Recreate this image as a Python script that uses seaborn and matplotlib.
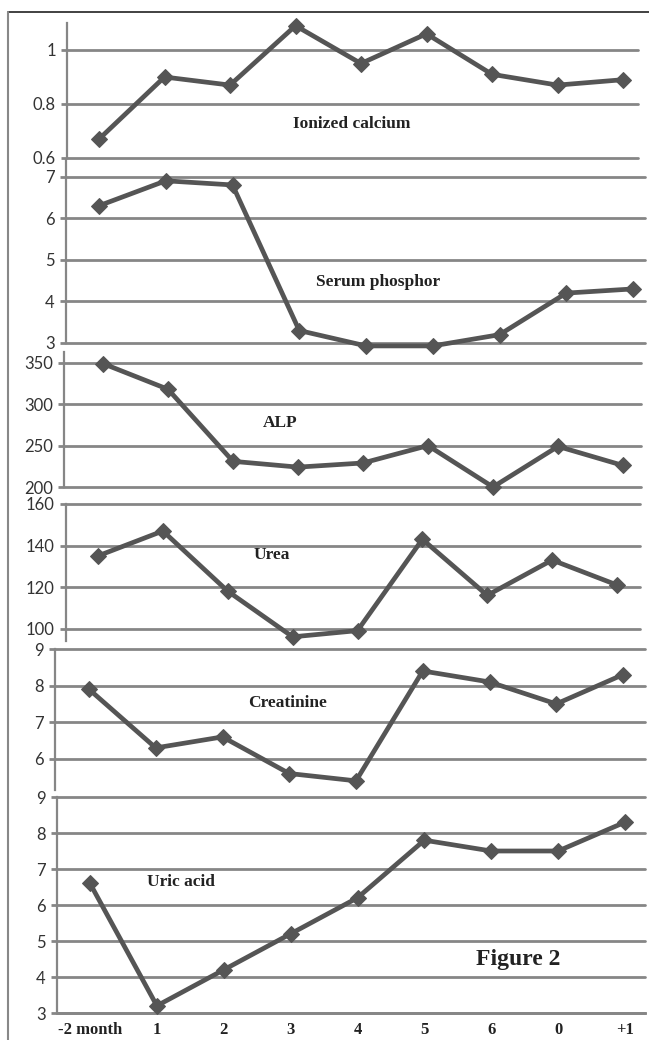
import matplotlib
matplotlib.use('Agg')
import matplotlib.pyplot as plt
import seaborn as sns
import pandas as pd

# months shown on the x axis (as printed in the figure)
months = ['-2 month', '1', '2', '3', '4', '5', '6', '0', '+1']

# values
ionized_calcium = [0.67, 0.90, 0.87, 1.09, 0.95, 1.06, 0.91, 0.87, 0.89]
serum_phosphor = [6.3, 6.9, 6.8, 3.3, 2.93, 2.93, 3.2, 4.2, 4.3]
alp = [349, 318, 231, 224, 229, 250, 200, 249, 226]
urea = [135, 147, 118, 96, 99, 143, 116, 133, 121]
creatinine = [7.9, 6.3, 6.6, 5.6, 5.4, 8.4, 8.1, 7.5, 8.3]
uric_acid = [6.6, 3.2, 4.2, 5.2, 6.2, 7.8, 7.5, 7.5, 8.3]

panel_names = ['Ionized calcium', 'Serum phosphor', 'ALP', 'Urea', 'Creatinine', 'Uric acid']
panel_values = [ionized_calcium, serum_phosphor, alp, urea, creatinine, uric_acid]
panel_ticks = [[0.6, 0.8, 1.0], [3, 4, 5, 6, 7], [200, 250, 300, 350],
               [100, 120, 140, 160], [6, 7, 8, 9], [3, 4, 5, 6, 7, 8, 9]]
panel_ticklabels = [['0.6', '0.8', '1'], ['3', '4', '5', '6', '7'], ['200', '250', '300', '350'],
                    ['100', '120', '140', '160'], ['6', '7', '8', '9'], ['3', '4', '5', '6', '7', '8', '9']]
panel_ylims = [(0.6, 1.1), (3, 7.4), (200, 363), (94, 160), (5.15, 9), (3, 9)]

# layout in pixels: left, right, top, bottom, first point x, last point x
layout = [
    (67, 638, 23, 158, 99, 623),
    (66, 645, 160, 343, 99, 633),
    (64, 641, 352, 487, 103, 623),
    (66, 640, 504, 641, 98, 617),
    (55, 645, 649, 790, 89, 623),
    (57, 645, 797, 1013, 90, 625),
]
# label centre positions in pixels
label_pos = [(352, 124), (378, 282), (280, 423), (272, 555), (288, 703), (181, 882)]

W, H = 649, 1040
LINE = '#555555'
GRID = '#868686'

sns.set_style('white')
plt.rcParams['font.family'] = ['Lato', 'DejaVu Sans']

fig = plt.figure(figsize=(W / 100, H / 100), dpi=100)

for i, (name, vals) in enumerate(zip(panel_names, panel_values)):
    L, R, T, B, f, l = layout[i]
    ax = fig.add_axes([L / W, 1 - B / H, (R - L) / W, (B - T) / H])
    ax.set_facecolor('none')
    df = pd.DataFrame({'x': range(len(months)), 'y': vals})
    sns.lineplot(data=df, x='x', y='y', ax=ax, color=LINE, linewidth=3.4,
                 marker='D', markersize=8.5, markeredgecolor=LINE, zorder=5)
    for ln in ax.lines:
        ln.set_clip_on(False)
    s = (l - f) / 8
    ax.set_xlim((L - f) / s, 8 + (R - l) / s)
    ax.set_ylim(*panel_ylims[i])
    ax.set_yticks(panel_ticks[i])
    ax.set_yticklabels(panel_ticklabels[i])
    ax.yaxis.grid(True, color=GRID, linewidth=2.0)
    for gl in ax.get_ygridlines():
        gl.set_clip_on(False)
    ax.set_axisbelow(True)
    for side in ['top', 'right', 'bottom']:
        ax.spines[side].set_visible(False)
    ax.spines['left'].set_color(GRID)
    ax.spines['left'].set_linewidth(1.6)
    ax.tick_params(axis='y', left=True, length=4, width=2.0, color=GRID,
                   labelsize=12, labelcolor='#333333', pad=4)
    ax.set_xlabel('')
    ax.set_ylabel('')
    if i == len(panel_names) - 1:
        ax.spines['bottom'].set_visible(True)
        ax.spines['bottom'].set_color(GRID)
        ax.spines['bottom'].set_linewidth(2.0)
        ax.set_xticks(range(len(months)))
        ax.set_xticklabels(months, family='Liberation Serif', fontweight='bold',
                           fontsize=12, color='#222222')
        ax.tick_params(axis='x', bottom=False, pad=3)
    else:
        ax.set_xticks([])
    lx, ly = label_pos[i]
    fig.text(lx / W, 1 - ly / H, name, ha='center', va='center',
             family='Liberation Serif', fontweight='bold', fontsize=12.5, color='#222222')

fig.text(518 / W, 1 - 960 / H, 'Figure 2', ha='center', va='center',
         family='Liberation Serif', fontweight='bold', fontsize=17, color='#222222')

# outer frame (top and left edges)
fig.add_artist(plt.Line2D([8 / W, 1], [1 - 12 / H, 1 - 12 / H], color='#333333', linewidth=1.3))
fig.add_artist(plt.Line2D([8 / W, 8 / W], [1 - 12 / H, 0], color='#888888', linewidth=1.5))

fig.savefig('out.png', dpi=100)
